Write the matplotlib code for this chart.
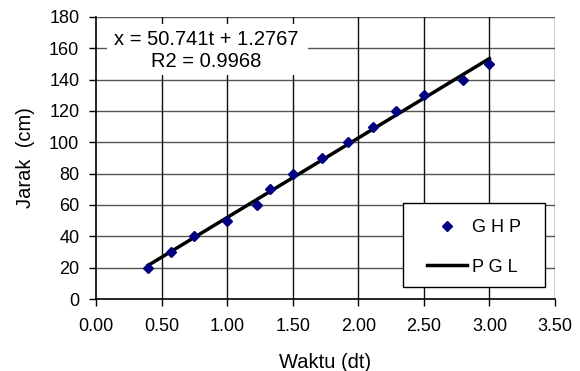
import matplotlib
matplotlib.use("Agg")
import matplotlib.pyplot as plt
from matplotlib.patches import Rectangle
import numpy as np

plt.rcParams['font.family'] = ['Liberation Sans', 'DejaVu Sans']

# Data
t_values = [0.40, 0.57, 0.75, 1.00, 1.23, 1.33, 1.50, 1.72, 1.92, 2.11, 2.29, 2.50, 2.80, 3.00]
x_values = [20, 30, 40, 50, 60, 70, 80, 90, 100, 110, 120, 130, 140, 150]
slope = 50.741
intercept = 1.2767
r2 = 0.9968
xticks = [0.0, 0.5, 1.0, 1.5, 2.0, 2.5, 3.0, 3.5]
yticks = [0, 20, 40, 60, 80, 100, 120, 140, 160, 180]

W, H = 580, 371
AX_L, AX_R, AX_T, AX_B = 96, 555, 17, 299
fig = plt.figure(figsize=(W / 100, H / 100), dpi=100)
ax = fig.add_axes([AX_L / W, 1 - AX_B / H, (AX_R - AX_L) / W, (AX_B - AX_T) / H])


def px(xp, yp):
    """pixel position -> axes fraction"""
    return (xp - AX_L) / (AX_R - AX_L), (AX_B - yp) / (AX_B - AX_T)


ax.set_xlim(0, 3.5)
ax.set_ylim(0, 180)
ax.set_xticks(xticks)
ax.set_xticklabels([f"{v:.2f}" for v in xticks])
ax.set_yticks(yticks)
ax.tick_params(axis='both', direction='out', length=5, width=1, color='black',
               labelsize=13)
ax.tick_params(axis='x', pad=9)
ax.tick_params(axis='y', pad=7)

for y in yticks[1:]:
    ax.axhline(y, color='#555555', lw=1.0, zorder=1)
for x in xticks[1:]:
    ax.axvline(x, color='#111111', lw=1.0, zorder=1)

for s in ['top', 'right']:
    ax.spines[s].set_visible(False)
for s in ['left', 'bottom']:
    ax.spines[s].set_color('black')
    ax.spines[s].set_linewidth(1.2)

# Equation box (white, no border)
bx0, by1 = px(107, 75)
bx1, by0 = px(308, 24)
ax.add_patch(Rectangle((bx0, by1), bx1 - bx0, by0 - by1, transform=ax.transAxes,
                       facecolor='white', edgecolor='none', zorder=3))
tx, ty1 = px(206, 40)
_, ty2 = px(207, 62)
ax.text(tx, ty1, f"x = {slope}t + {intercept}", transform=ax.transAxes,
        ha='center', va='center', fontsize=14.5, zorder=4)
ax.text(tx, ty2, f"R2 = {r2}", transform=ax.transAxes,
        ha='center', va='center', fontsize=14.5, zorder=4)

t_line = np.array([min(t_values), max(t_values)])
ax.plot(t_line, slope * t_line + intercept, color='black', lw=2.5, zorder=4, label='P G L')
ax.plot(t_values, x_values, linestyle='none', marker='D', markersize=5,
        color='#000080', zorder=5, label='G H P')

# Legend frame
lx0, ly0 = px(403, 287)
lx1, ly1 = px(545, 203)
ax.add_patch(Rectangle((lx0, ly0), lx1 - lx0, ly1 - ly0, transform=ax.transAxes,
                       facecolor='white', edgecolor='black', lw=1.0, zorder=6))
handles, labels = ax.get_legend_handles_labels()
ax_anchor = px(427, 219)
leg = ax.legend(handles[::-1], labels[::-1], loc='upper left',
                bbox_to_anchor=ax_anchor, frameon=False,
                fontsize=13, handlelength=2.2, labelspacing=1.25, borderpad=0,
                handletextpad=0.3, borderaxespad=0)
leg.set_zorder(7)

ax.set_xlabel("Waktu (dt)", fontsize=14.5, labelpad=13)
ax.set_ylabel("Jarak  (cm)", fontsize=14.5, labelpad=10)

fig.savefig("out.png", dpi=100)
